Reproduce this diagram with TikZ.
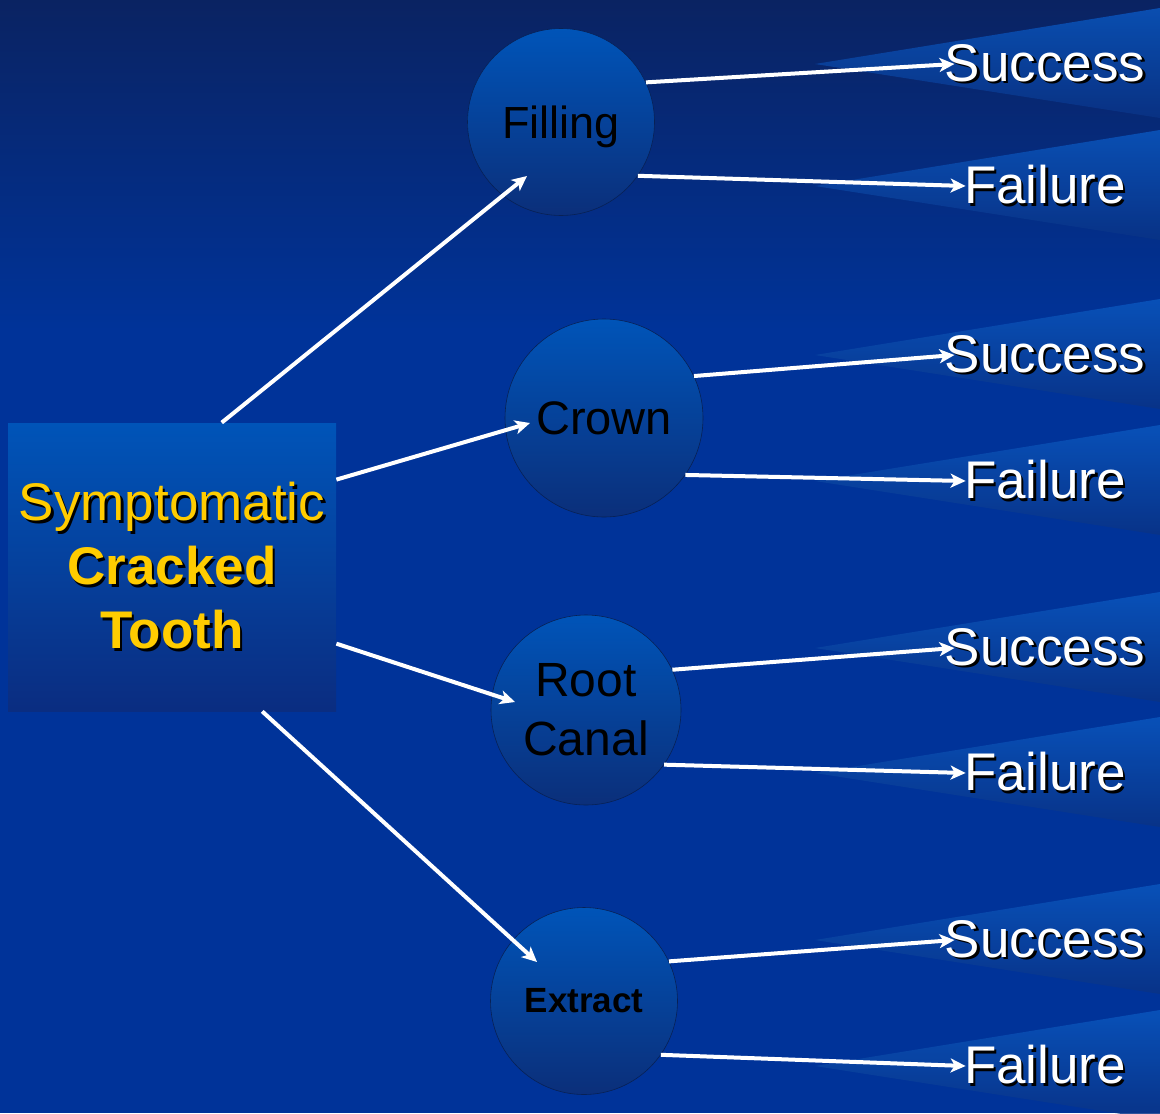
\documentclass[tikz,border=0pt]{standalone}
\usepackage{fontspec}
\setmainfont{Liberation Sans}
\usetikzlibrary{arrows.meta,positioning}

\definecolor{bgdark}{HTML}{0A2362}
\definecolor{bgblue}{HTML}{003399}
\definecolor{ballhi}{HTML}{0054B8}
\definecolor{balllo}{HTML}{0B2F7A}
\definecolor{wedgehi}{HTML}{0A56BE}
\definecolor{wedgelo}{HTML}{0A3385}
\definecolor{gold}{HTML}{FFCC00}

\newcommand{\shadowed}[1]{\leavevmode\rlap{\kern1.2pt\raisebox{-1.2pt}{\textcolor{black}{#1}}}#1}

\begin{document}
\begin{tikzpicture}[x=0.5pt,y=-0.5pt]

	\tikzset{
		treat/.style={circle, minimum size=#1, inner sep=0pt,
			draw=balllo!70!black, line width=0.3pt,
			top color=ballhi, bottom color=balllo,
			text=black, align=center},
		treat/.default=93.5pt,
		patient/.style={rectangle, minimum width=164pt, minimum height=144pt,
			inner sep=0pt, top color=ballhi, bottom color=balllo!95!blue,
			text=gold, align=center, font=\fontsize{26.5}{32}\selectfont},
		outcome/.style={text=white, inner sep=0pt,
			font=\fontsize{26.5}{32}\selectfont},
		branch/.style={draw=white, line width=2pt,
			-{Stealth[length=7.5pt,width=7pt,inset=2pt]}}
	}
	
	% background
	\useasboundingbox (0,0) rectangle (1160,1113);
	\clip (0,0) rectangle (1160,1113);
	\fill[bgblue] (0,0) rectangle (1160,1113);
	\shade[top color=bgdark, bottom color=bgblue] (0,0) rectangle (1160,330);
	\foreach \y in {64,186,355,481,648,773,940,1066}
		\shade[top color=wedgehi, bottom color=wedgelo, opacity=0.85]
			(815,\y) -- (1160,\y-56) -- (1160,\y+54) -- cycle;
	
	% patient
	\node[patient] (tooth) at (172,567)
		{\shadowed{Symptomatic}\\ \textbf{\shadowed{Cracked}}\\ \textbf{\shadowed{Tooth}}};
	
	% treatments
	\node[treat, text depth=0pt, font=\fontsize{22.5}{27}\selectfont] (fill) at (561,122) {Filling};
	\node[treat=99pt, font=\fontsize{23.5}{28}\selectfont] (crown) at (604,418) {Crown};
	\node[treat=95pt, font=\fontsize{24}{29.5}\selectfont] (root) at (586,710) {Root\\Canal};
	\node[treat, font=\fontsize{17.5}{21}\selectfont\bfseries] (extract) at (584,1001) {Extract};
	
	\coordinate (fillin) at (527,176);
	\coordinate (crownin) at (530,423);
	\coordinate (rootin) at (515,702);
	\coordinate (extractin) at (537,962);
	
	\draw[branch] (tooth.71) -- (fillin);
	\draw[branch] (tooth.28) -- (crownin);
	\draw[branch] (tooth.-25) -- (rootin);
	\draw[branch] (tooth.-58) -- (extractin);
	
	% outcomes
	\foreach \t/\ys/\yf [count=\i] in {fill/64/186, crown/355/481, root/648/773, extract/940/1066} {
		\node[outcome] (s\i) at (1045,\ys) {\shadowed{Success}};
		\node[outcome] (f\i) at (1045,\yf) {\shadowed{Failure}};
		\draw[branch] (\t.25) -- ([xshift=5pt]s\i.west);
		\draw[branch] (\t.-35) -- ([xshift=1pt]f\i.west);
	}
	
\end{tikzpicture}
\end{document}
